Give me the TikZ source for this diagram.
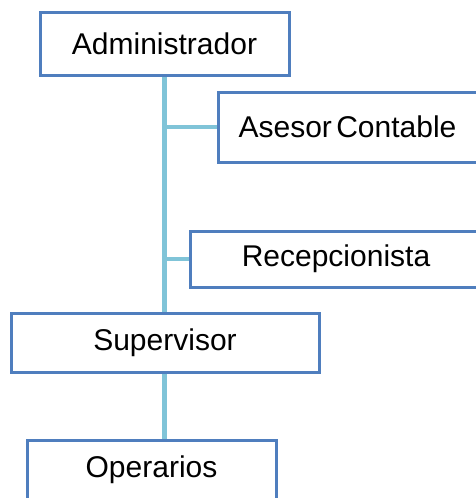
\documentclass[tikz,border=0pt]{standalone}
\usepackage{fontspec}
\setmainfont{Liberation Sans}
\usetikzlibrary{backgrounds}
\definecolor{boxblue}{RGB}{79,126,190}
\definecolor{linkblue}{RGB}{128,196,216}
\tikzset{
  orgbox/.style={draw=boxblue, line width=1.5pt, fill=white, inner sep=0pt,
    font=\fontsize{15}{18}\selectfont, text=black},
  link/.style={draw=linkblue, line width=2.3pt}
}
\begin{document}
\begin{tikzpicture}[x=0.5pt,y=-0.5pt]
\useasboundingbox (0,0) rectangle (476,498);
\clip (0,0) rectangle (476,498);
\node[orgbox, minimum width=124.5pt, minimum height=31.5pt] (adm) at (164.5,43.5) {Administrador};
\node[orgbox, minimum width=166pt, minimum height=35pt] (ase) at (384,127) {Asesor\kern-2pt\ Contable\kern36.5pt};
\node[orgbox, minimum width=180pt, minimum height=28pt] (rec) at (370,259) {Recepcionista\kern34pt};
\node[orgbox, minimum width=154pt, minimum height=29.5pt] (sup) at (165,342.5) {Supervisor};
\node[orgbox, minimum width=124.5pt, minimum height=30pt] (ope) at (151.5,470) {Operarios};
\begin{pgfonlayer}{background}
\fill[white] (0,0) rectangle (476,498);
\draw[link] (adm.south) -- (adm.south |- sup.north);
\draw[link] (adm.south |- ase.west) -- (ase.west);
\draw[link] (adm.south |- rec.west) -- (rec.west);
\draw[link] (adm.south |- sup.south) -- (adm.south |- ope.north);
\end{pgfonlayer}
\end{tikzpicture}
\end{document}
